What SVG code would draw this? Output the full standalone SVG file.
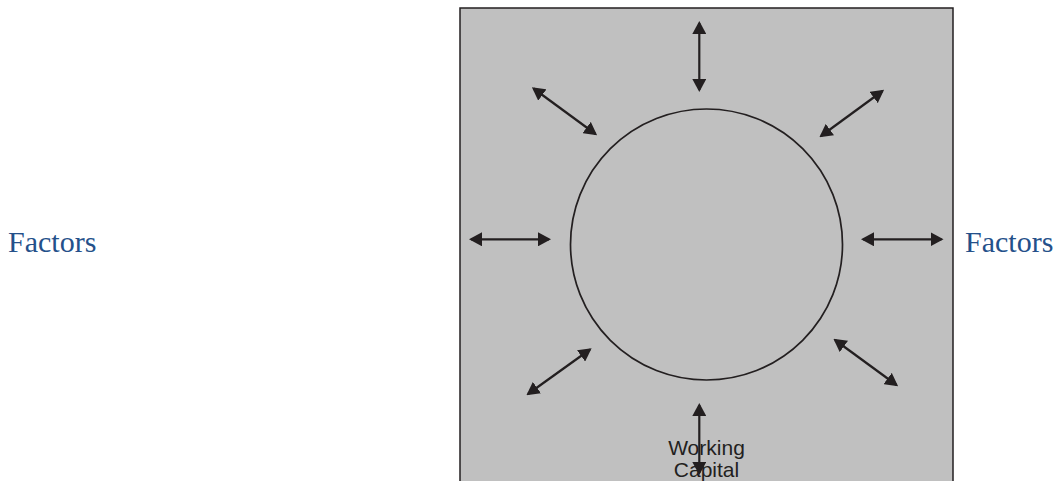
<svg xmlns="http://www.w3.org/2000/svg" width="1060" height="481" viewBox="0 0 1060 481">
<style>
.factor{font-family:"Liberation Serif","Times New Roman",serif;font-size:30px;fill:#24508a}
.lbl{font-family:"Liberation Sans",Arial,sans-serif;font-size:21px;fill:#231f20;text-anchor:middle}
.conn line{stroke:#231f20;stroke-width:2.2;marker-start:url(#ah);marker-end:url(#ah)}
</style>
<defs>
<marker id="ah" markerUnits="userSpaceOnUse" markerWidth="13" markerHeight="14" viewBox="0 0 13 14" refX="11" refY="7" orient="auto-start-reverse">
<path d="M0,0 L13,7 L0,14 z" fill="#231f20"/>
</marker>
</defs>
<rect width="1060" height="481" fill="#ffffff"/>
<g id="panel">
<rect x="460" y="8" width="493" height="480" fill="#c0c0c0" stroke="#231f20" stroke-width="1.5"/>
</g>
<g id="working-capital">
<ellipse cx="706.5" cy="244.5" rx="136" ry="135.5" fill="none" stroke="#231f20" stroke-width="1.7"/>
</g>
<g id="factors-left">
<text class="factor" x="8" y="252">Factors</text>
</g>
<g id="factors-right">
<text class="factor" x="965" y="252">Factors</text>
</g>
<g id="connectors" class="conn">
<line x1="699.3" y1="23" x2="699.3" y2="90"/>
<line x1="533.5" y1="88.5" x2="595.5" y2="134"/>
<line x1="882.5" y1="91" x2="821" y2="136"/>
<line x1="471" y1="239.3" x2="549" y2="239.3"/>
<line x1="863" y1="239.3" x2="941.5" y2="239.3"/>
<line x1="528" y1="394" x2="590" y2="349.5"/>
<line x1="835" y1="340" x2="896.5" y2="385"/>
<line x1="699.3" y1="405" x2="699.3" y2="473"/>
</g>
<g id="label">
<text class="lbl" x="706.5" y="455">Working</text>
<text class="lbl" x="706.5" y="477">Capital</text>
</g>
</svg>
